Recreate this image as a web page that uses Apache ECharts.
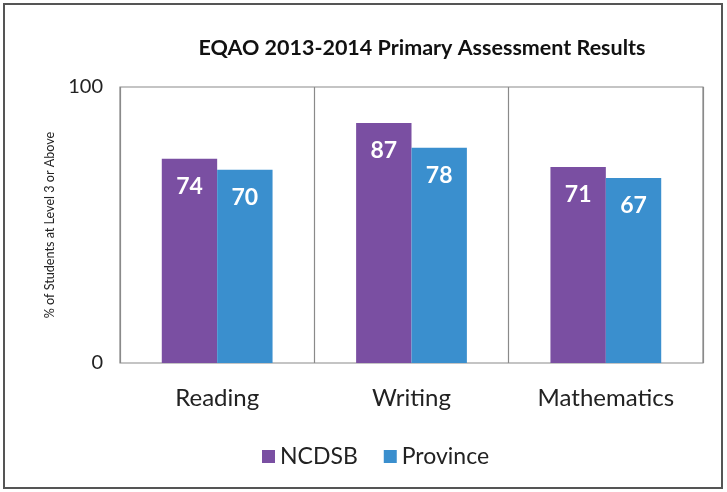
<!DOCTYPE html>
<html>
<head>
<meta charset="utf-8">
<script src="https://cdn.jsdelivr.net/npm/echarts@6/dist/echarts.min.js"></script>
<style>
  html, body { margin: 0; padding: 0; background: #fff; }
  #main { width: 727px; height: 492px; }
</style>
</head>
<body>
<div id="main"></div>
<script>
// data
const categories = ['Reading', 'Writing', 'Mathematics'];
const ncdsb = [74, 87, 71];
const province = [70, 78, 67];
const yTicks = [0, 100];

const font = 'Lato, "Open Sans", sans-serif';
const myChart = echarts.init(document.getElementById('main'));
const barLabel = {
  show: true,
  position: 'insideTop',
  distance: 16,
  color: '#fff',
  fontWeight: 'bold',
  fontSize: 23,
  fontFamily: font
};
const option = {
  animation: false,
  backgroundColor: '#fff',
  title: {
    text: 'EQAO 2013-2014 Primary Assessment Results',
    left: 417,
    top: 32,
    textAlign: 'center',
    textStyle: { fontSize: 21.5, fontWeight: 'bold', color: '#111', fontFamily: font }
  },
  graphic: [{
    type: 'rect',
    shape: { x: 4, y: 4, width: 718, height: 484 },
    style: { fill: 'none', stroke: '#555', lineWidth: 2 },
    z: -1
  }],
  legend: {
    data: ['NCDSB', 'Province'],
    left: 257,
    top: 440,
    itemWidth: 13,
    itemHeight: 13,
    itemGap: 26,
    icon: 'rect',
    textStyle: { fontSize: 23, color: '#222', fontFamily: font }
  },
  grid: {
    left: 120, right: 24, top: 87, bottom: 129,
    show: true, borderColor: '#8a8a8a', borderWidth: 1.2
  },
  xAxis: {
    type: 'category',
    data: categories,
    axisLine: { show: false },
    axisTick: { show: false },
    splitLine: { show: true, lineStyle: { color: '#8a8a8a', width: 1.2 } },
    axisLabel: { fontSize: 24, color: '#222', margin: 23, fontFamily: font }
  },
  yAxis: {
    type: 'value',
    min: yTicks[0],
    max: yTicks[1],
    interval: 100,
    name: '% of Students at Level 3 or Above',
    nameLocation: 'middle',
    nameGap: 64,
    nameTextStyle: { fontSize: 12.6, color: '#222', fontFamily: font },
    axisLine: { show: false },
    axisTick: { show: false },
    splitLine: { show: false },
    axisLabel: { fontSize: 20, color: '#222', margin: 17, fontFamily: font }
  },
  series: [
    {
      name: 'NCDSB',
      type: 'bar',
      data: ncdsb,
      barGap: '0%',
      barCategoryGap: '43%',
      itemStyle: { color: '#7a4fa2' },
      label: barLabel
    },
    {
      name: 'Province',
      type: 'bar',
      data: province,
      itemStyle: { color: '#3a8fce' },
      label: barLabel
    }
  ]
};
myChart.setOption(option);
</script>
</body>
</html>
